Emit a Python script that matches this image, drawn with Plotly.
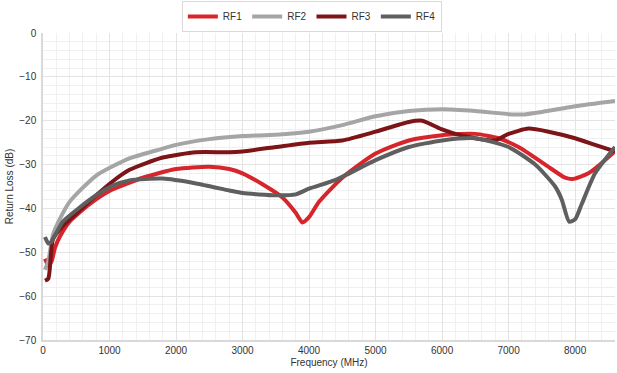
import plotly.graph_objects as go

# Frequency sweep points (MHz) and return loss (dB) per port
rf1_f = [30, 80, 130, 180, 250, 400, 700, 1000, 1500, 2000, 2500, 2800, 3000, 3300, 3600, 3800, 3900, 4000, 4150, 4500, 5000, 5500, 6000, 6500, 6850, 7150, 7550, 7850, 7960, 8200, 8600]
rf1_db = [-51.5, -53, -52, -49, -46.5, -43, -39, -36, -33, -31, -30.5, -31, -32, -34.5, -37.5, -41, -43.2, -42, -38.5, -33, -27.5, -24.5, -23.3, -23, -24, -26, -30, -33, -33.3, -32, -27]

rf2_f = [30, 80, 150, 250, 400, 800, 1300, 1700, 2000, 2500, 3000, 3500, 4000, 4500, 5000, 5500, 6000, 6500, 7000, 7200, 7500, 8000, 8600]
rf2_db = [-54, -52, -46, -42.5, -38.5, -32.5, -28.6, -26.8, -25.5, -24.2, -23.5, -23.2, -22.5, -21, -19, -17.8, -17.4, -17.8, -18.5, -18.6, -18, -16.7, -15.5]

rf3_f = [30, 80, 150, 300, 550, 800, 1050, 1300, 1800, 2300, 2800, 3000, 3500, 4000, 4500, 5000, 5500, 5700, 6000, 6200, 6500, 6800, 7000, 7300, 7600, 8000, 8300, 8600]
rf3_db = [-56.5, -56, -47, -44, -40.5, -37, -33.8, -31.2, -28.4, -27.2, -27.2, -27, -26, -25, -24.5, -22.5, -20.3, -20, -22, -23, -24, -24.5, -23, -21.8, -22.5, -24, -25.5, -27]

rf4_f = [30, 80, 120, 300, 550, 800, 1050, 1300, 1800, 2300, 2800, 3000, 3500, 3800, 4000, 4400, 5000, 5500, 6000, 6500, 7000, 7400, 7700, 7800, 7910, 8000, 8100, 8300, 8600]
rf4_db = [-46.5, -48, -47.7, -43, -39.8, -37, -34.8, -33.6, -33.2, -34.3, -35.9, -36.5, -37, -36.8, -35.5, -33.5, -29, -26, -24.5, -24, -26, -30, -35, -38, -43, -42.5, -39, -32, -26]

series = [
    ("RF1", rf1_f, rf1_db, "#D7262B"),
    ("RF2", rf2_f, rf2_db, "#A5A5A5"),
    ("RF3", rf3_f, rf3_db, "#7D1417"),
    ("RF4", rf4_f, rf4_db, "#5F5F5F"),
]

fig = go.Figure()
for name, f, db, color in series:
    fig.add_trace(go.Scatter(
        x=f, y=db, name=name, mode="lines",
        line=dict(color=color, width=4, shape="spline", smoothing=0.6),
    ))

font = "Liberation Sans, Arial, sans-serif"
fig.update_layout(
    width=617, height=373,
    margin=dict(l=43, r=2, t=32, b=33),
    paper_bgcolor="white", plot_bgcolor="white",
    font=dict(family=font, size=10, color="#333333"),
    showlegend=True,
    legend=dict(
        orientation="h", x=0.47, xanchor="center", y=1.0, yanchor="bottom",
        bordercolor="#d9d9d9", borderwidth=1,
        font=dict(size=10, color="#333333"),
        itemwidth=30, tracegroupgap=0,
    ),
    xaxis=dict(
        range=[0, 8600], dtick=1000, tick0=0,
        showgrid=True, gridcolor="#e3e3e3", gridwidth=1,
        minor=dict(dtick=200, showgrid=True, gridcolor="#f0f0f0", gridwidth=1),
        showline=True, linecolor="#d9d9d9", linewidth=2,
        zeroline=False, ticks="",
        title=dict(text="Frequency (MHz)", standoff=4, font=dict(size=10)),
    ),
    yaxis=dict(
        range=[-70, 0], dtick=10, tick0=0,
        showgrid=True, gridcolor="#e3e3e3", gridwidth=1,
        minor=dict(dtick=2, showgrid=True, gridcolor="#f0f0f0", gridwidth=1),
        showline=True, linecolor="#d9d9d9", linewidth=2,
        zeroline=False, ticks="", ticksuffix=" ",
        title=dict(text="Return Loss (dB)", standoff=4, font=dict(size=10)),
    ),
)

fig.write_html("out.html")
